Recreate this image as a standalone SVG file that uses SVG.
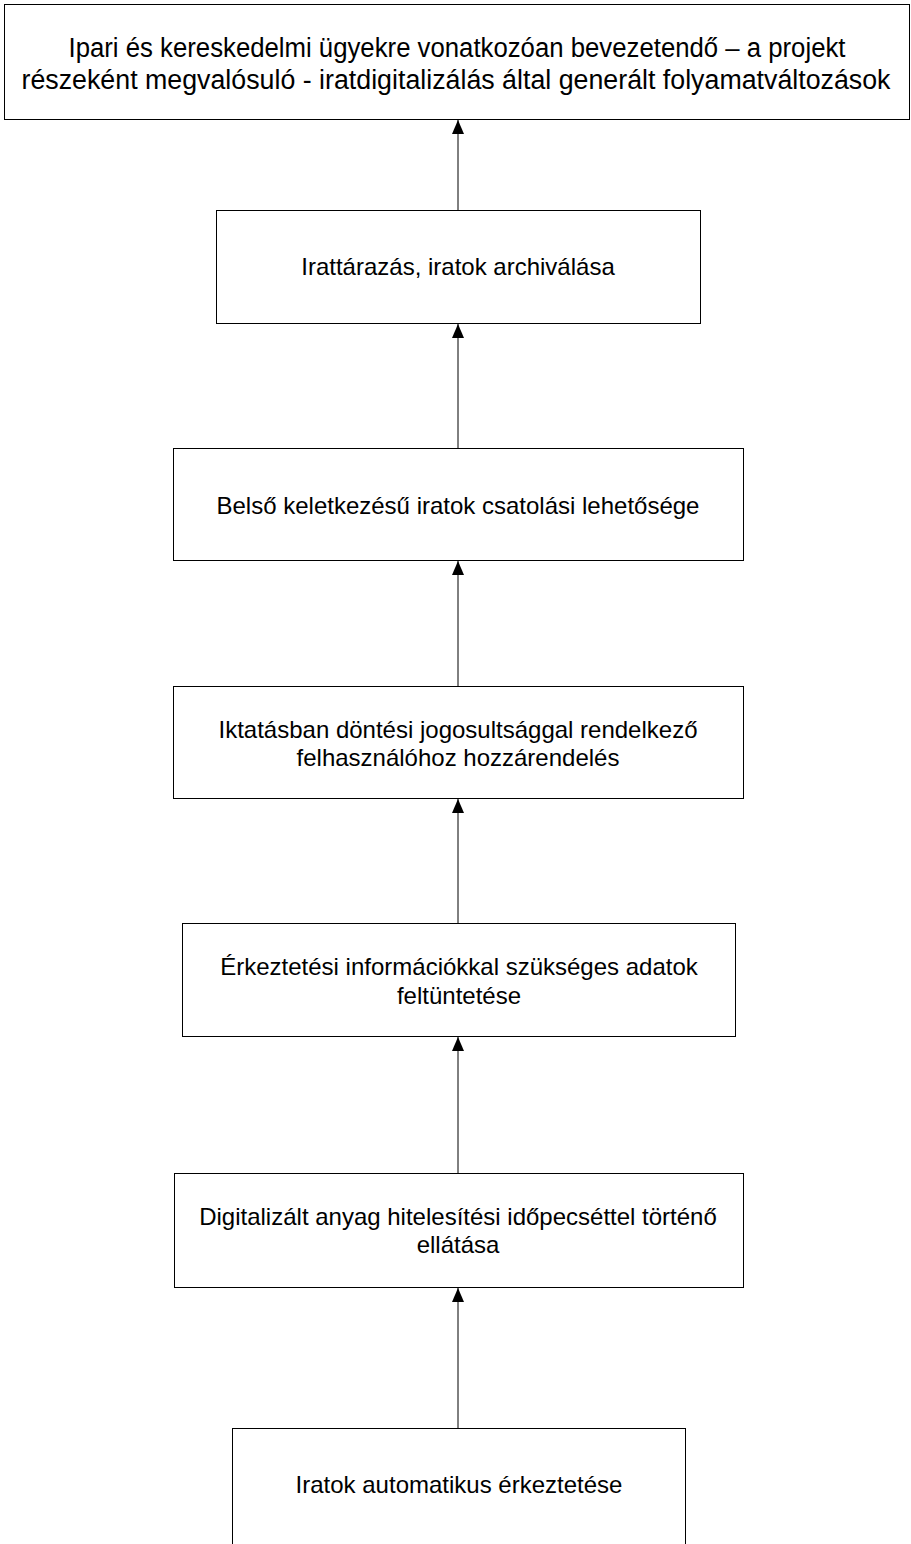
<svg xmlns="http://www.w3.org/2000/svg" width="911" height="1544" viewBox="0 0 911 1544">
  <style>
    .box { fill: #ffffff; stroke: #000000; stroke-width: 1; }
    .lbl { font-family: "Liberation Sans", Arial, sans-serif; font-size: 24px; fill: #000000; text-anchor: middle; }
    .ttl { font-size: 27px; }
    .edge { stroke: #000000; stroke-width: 1; fill: none; marker-end: url(#arrow); }
  </style>
  <defs>
    <!-- solid triangular head, drawn along +x and rotated with the line -->
    <marker id="arrow" viewBox="0 0 14 12" refX="14" refY="6" markerWidth="14" markerHeight="12" markerUnits="userSpaceOnUse" orient="auto">
      <path d="M0,0 L14,6 L0,12 Z" fill="#000000"/>
    </marker>
  </defs>
  <rect width="911" height="1544" fill="#ffffff"/>

  <g id="connectors">
    <line class="edge" x1="458" y1="210" x2="458" y2="120"/>
    <line class="edge" x1="458" y1="448" x2="458" y2="324"/>
    <line class="edge" x1="458" y1="686" x2="458" y2="561"/>
    <line class="edge" x1="458" y1="923" x2="458" y2="799"/>
    <line class="edge" x1="458" y1="1173" x2="458" y2="1037"/>
    <line class="edge" x1="458" y1="1428" x2="458" y2="1288"/>
  </g>

  <g id="n-title">
    <rect class="box" x="4.5" y="4.5" width="905" height="115"/>
    <text class="lbl ttl" x="457" y="57" textLength="777" lengthAdjust="spacingAndGlyphs">Ipari és kereskedelmi ügyekre vonatkozóan bevezetendő – a projekt</text>
    <text class="lbl ttl" x="456" y="89" textLength="869" lengthAdjust="spacingAndGlyphs">részeként megvalósuló - iratdigitalizálás által generált folyamatváltozások</text>
  </g>

  <g id="n-archive">
    <rect class="box" x="216.5" y="210.5" width="484" height="113"/>
    <text class="lbl" x="458" y="275">Irattárazás, iratok archiválása</text>
  </g>

  <g id="n-internal">
    <rect class="box" x="173.5" y="448.5" width="570" height="112"/>
    <text class="lbl" x="458" y="514">Belső keletkezésű iratok csatolási lehetősége</text>
  </g>

  <g id="n-assign">
    <rect class="box" x="173.5" y="686.5" width="570" height="112"/>
    <text class="lbl" x="458" y="738">Iktatásban döntési jogosultsággal rendelkező</text>
    <text class="lbl" x="458" y="766">felhasználóhoz hozzárendelés</text>
  </g>

  <g id="n-registry-data">
    <rect class="box" x="182.5" y="923.5" width="553" height="113"/>
    <text class="lbl" x="459" y="975">Érkeztetési információkkal szükséges adatok</text>
    <text class="lbl" x="459" y="1004">feltüntetése</text>
  </g>

  <g id="n-timestamp">
    <rect class="box" x="174.5" y="1173.5" width="569" height="114"/>
    <text class="lbl" x="458" y="1225">Digitalizált anyag hitelesítési időpecséttel történő</text>
    <text class="lbl" x="458" y="1253">ellátása</text>
  </g>

  <g id="n-auto-registry">
    <rect class="box" x="232.5" y="1428.5" width="453" height="130"/>
    <text class="lbl" x="459" y="1493">Iratok automatikus érkeztetése</text>
  </g>
</svg>
